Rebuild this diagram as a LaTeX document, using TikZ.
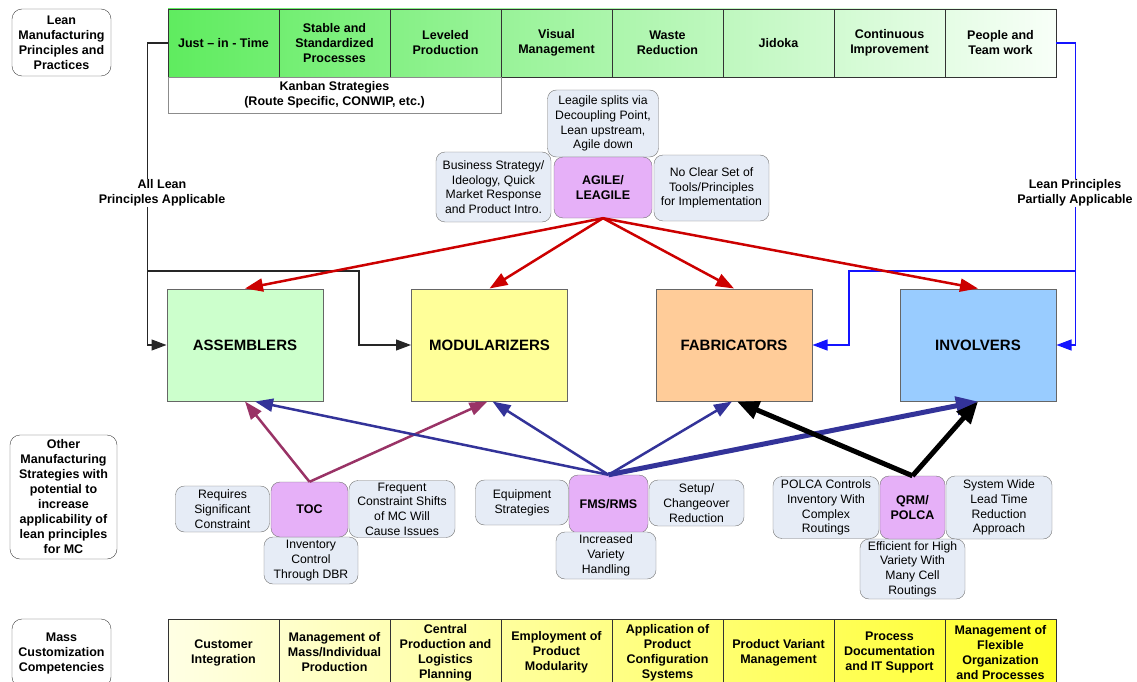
\documentclass[tikz,border=0pt]{standalone}
\usepackage{fontspec}
\setmainfont{Liberation Sans}
\usetikzlibrary{arrows.meta}

\definecolor{leanleft}{RGB}{95,236,95}
\definecolor{leanright}{RGB}{248,255,248}
\definecolor{mcleft}{RGB}{255,255,228}
\definecolor{mcright}{RGB}{255,255,40}
\definecolor{asmfill}{RGB}{204,255,204}
\definecolor{modfill}{RGB}{255,255,153}
\definecolor{fabfill}{RGB}{255,204,153}
\definecolor{invfill}{RGB}{153,204,255}
\definecolor{stratfill}{RGB}{230,176,248}
\definecolor{notefill}{RGB}{230,236,246}
\definecolor{agilered}{RGB}{204,0,0}
\definecolor{tocred}{RGB}{153,51,102}
\definecolor{fmsblue}{RGB}{51,51,153}
\definecolor{partblue}{RGB}{20,20,255}

\begin{document}
\begin{tikzpicture}[x=1pt,y=-1pt,
  sidebox/.style={draw=black!75,rounded corners=10pt,fill=white,align=center,inner sep=0pt,
    font=\fontsize{12.5}{15}\selectfont\bfseries},
  barcell/.style={draw=black!80,minimum width=111pt,inner sep=0pt,align=center,
    font=\fontsize{12.5}{15}\selectfont\bfseries},
  mainbox/.style={draw=black!60,line width=1pt,minimum width=156pt,minimum height=112pt,
    font=\fontsize{15}{18}\selectfont\bfseries},
  stratbox/.style={draw=black!55,fill=stratfill,rounded corners=9pt,align=center,inner sep=0pt,
    font=\fontsize{12.5}{15}\selectfont\bfseries},
  notebox/.style={draw=black!55,fill=notefill,rounded corners=9pt,align=center,inner sep=0pt,
    font=\fontsize{12.2}{14.7}\selectfont},
  linetxt/.style={fill=white,inner sep=1pt,align=center,font=\fontsize{12.5}{15}\selectfont\bfseries},
  redarr/.style={draw=agilered,line width=2.5pt,-{Triangle[length=18pt,width=13pt]}},
  tocarr/.style={draw=tocred,line width=2.5pt,-{Triangle[length=18pt,width=13pt]}},
  fmsarr/.style={draw=fmsblue,line width=2.5pt,-{Triangle[length=18pt,width=13pt]}},
  heavyarr/.style={line width=5pt,-{Triangle[length=22pt,width=18pt]}},
  thinarr/.style={line width=1.1pt,-{Triangle[length=15pt,width=11pt]}}]
\useasboundingbox (0,0) rectangle (1137,682);

\node[sidebox,minimum width=99pt,minimum height=67pt] (leanlbl) at (61.5,42.5) {Lean\\Manufacturing\\Principles and\\Practices};
\node[sidebox,minimum width=107pt,minimum height=124pt] (otherlbl) at (63.5,497) {Other\\Manufacturing\\Strategies with\\potential to\\increase\\applicability of\\lean principles\\for MC};
\node[sidebox,minimum width=99pt,minimum height=68pt] (mclbl) at (61.5,653) {Mass\\Customization\\Competencies};

\shade[left color=leanleft,right color=leanright] (168,9) rectangle (1056,77);
\node[barcell,minimum height=68pt] (jit) at (223.5,43) {Just – in - Time};
\node[barcell,minimum height=68pt] (stable) at (334.5,43) {Stable and\\Standardized\\Processes};
\node[barcell,minimum height=68pt] (level) at (445.5,43) {Leveled\\Production};
\node[barcell,minimum height=68pt] (visual) at (556.5,43) {Visual\\Management};
\node[barcell,minimum height=68pt] (waste) at (667.5,43) {Waste\\Reduction};
\node[barcell,minimum height=68pt] (jidoka) at (778.5,43) {Jidoka};
\node[barcell,minimum height=68pt] (improve) at (889.5,43) {Continuous\\Improvement};
\node[barcell,minimum height=68pt] (people) at (1000.5,43) {People and\\Team work};
\node[barcell,draw=black!45,minimum width=333pt,minimum height=36pt] (kanban) at (334.5,95) {Kanban Strategies\\(Route Specific, CONWIP, etc.)};

\node[notebox,minimum width=111pt,minimum height=67pt] (leagile) at (603,123.5) {Leagile splits via\\Decoupling Point,\\Lean upstream,\\Agile down};
\node[notebox,minimum width=115pt,minimum height=70pt] (bizstrat) at (493.5,187) {Business Strategy/\\Ideology, Quick\\Market Response\\and Product Intro.};
\node[notebox,minimum width=115pt,minimum height=66pt] (noclear) at (711.5,188) {No Clear Set of\\Tools/Principles\\for Implementation};
\node[stratbox,minimum width=98pt,minimum height=61pt] (agile) at (603,187.5) {AGILE/\\LEAGILE};

\node[mainbox,fill=asmfill] (asm) at (245,345) {ASSEMBLERS};
\node[mainbox,fill=modfill] (mod) at (489.5,345) {MODULARIZERS};
\node[mainbox,fill=fabfill] (fab) at (734,345) {FABRICATORS};
\node[mainbox,fill=invfill] (inv) at (978,345) {INVOLVERS};

\node[notebox,minimum width=94pt,minimum height=46pt] (reqcon) at (222.5,509) {Requires\\Significant\\Constraint};
\node[notebox,minimum width=106pt,minimum height=57pt] (shifts) at (402,509) {Frequent\\Constraint Shifts\\of MC Will\\Cause Issues};
\node[notebox,minimum width=94pt,minimum height=47pt] (dbr) at (311,560.5) {Inventory\\Control\\Through DBR};
\node[stratbox,minimum width=77pt,minimum height=55pt] (toc) at (309.5,509.5) {TOC};

\node[notebox,minimum width=93pt,minimum height=45pt] (equip) at (522,502.5) {Equipment\\Strategies};
\node[notebox,minimum width=95pt,minimum height=46pt] (setup) at (696.5,503) {Setup/\\Changeover\\Reduction};
\node[stratbox,minimum width=79pt,minimum height=58pt] (fms) at (608.5,504) {FMS/RMS};
\node[notebox,minimum width=100pt,minimum height=47pt] (variety) at (606,555.5) {Increased\\Variety\\Handling};

\node[notebox,minimum width=106pt,minimum height=62pt] (polca) at (826,507.5) {POLCA Controls\\Inventory With\\Complex\\Routings};
\node[notebox,minimum width=106pt,minimum height=63pt] (leadtime) at (999,507.5) {System Wide\\Lead Time\\Reduction\\Approach};
\node[notebox,minimum width=105pt,minimum height=60pt] (highvar) at (912.5,569) {Efficient for High\\Variety With\\Many Cell\\Routings};
\node[stratbox,minimum width=65pt,minimum height=63pt] (qrm) at (912.5,507.5) {QRM/\\POLCA};

\shade[left color=mcleft,right color=mcright] (168,619) rectangle (1056,686);
\node[barcell,minimum height=67pt] (custint) at (223.5,652.5) {Customer\\Integration};
\node[barcell,minimum height=67pt] (massind) at (334.5,652.5) {Management of\\Mass/Individual\\Production};
\node[barcell,minimum height=67pt] (central) at (445.5,652.5) {Central\\Production and\\Logistics\\Planning};
\node[barcell,minimum height=67pt] (modular) at (556.5,652.5) {Employment of\\Product\\Modularity};
\node[barcell,minimum height=67pt] (config) at (667.5,652.5) {Application of\\Product\\Configuration\\Systems};
\node[barcell,minimum height=67pt] (variant) at (778.5,652.5) {Product Variant\\Management};
\node[barcell,minimum height=67pt] (itsupport) at (889.5,652.5) {Process\\Documentation\\and IT Support};
\node[barcell,minimum height=67pt] (flexorg) at (1000.5,652.5) {Management of\\Flexible\\Organization\\and Processes};

\coordinate (lsplit) at (148,271);
\coordinate (lbend) at (359,271);
\coordinate (rsplit) at (1075,271);
\coordinate (rbend) at (849,271);
\draw[thinarr,draw=black!85] (jit.west) -- ++(-20,0) |- (asm.west);
\draw[thinarr,draw=black!85] (lsplit) -- (lbend) |- (mod.west);
\draw[thinarr,draw=partblue] (people.east) -- ++(19,0) |- (inv.east);
\draw[thinarr,draw=partblue] (rsplit) -- (rbend) |- (fab.east);
\node[linetxt] (alltxt) at (162,193) {All Lean\\Principles Applicable};
\node[linetxt] (parttxt) at (1075,193) {Lean Principles\\Partially Applicable};

\draw[redarr] (agile.south) -- (asm.north);
\draw[redarr] (agile.south) -- (mod.north);
\draw[redarr] (agile.south) -- (fab.north);
\draw[redarr] (agile.south) -- (inv.north);

\draw[tocarr] (toc.north) -- (asm.south);
\draw[tocarr] (toc.north) -- ([xshift=-2pt]mod.south);
\draw[fmsarr] (fms.north) -- ([xshift=10pt]asm.south);
\draw[fmsarr] (fms.north) -- ([xshift=3pt]mod.south);
\draw[fmsarr] (fms.north) -- ([xshift=-2pt]fab.south);
\draw[fmsarr,heavyarr] (fms.north) -- (inv.south);
\draw[heavyarr,draw=black] (qrm.north) -- ([xshift=3pt]fab.south);
\draw[heavyarr,draw=black] (qrm.north) -- (inv.south);
\end{tikzpicture}
\end{document}
